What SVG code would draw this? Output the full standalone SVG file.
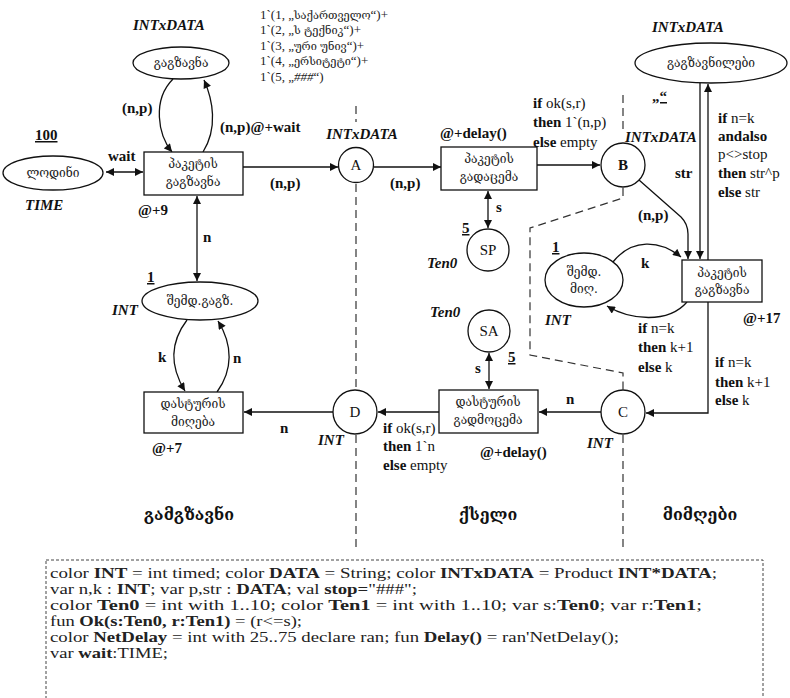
<svg xmlns="http://www.w3.org/2000/svg" width="790" height="698" viewBox="0 0 790 698">
<style>
.ln{stroke:#111;stroke-width:1.3;fill:none}
.nd{fill:#fff;stroke:#111;stroke-width:1.3}
.t{font-family:"Liberation Serif","Times New Roman","DejaVu Serif",serif;font-size:15px;fill:#111}
.b{font-weight:bold}
.bi{font-weight:bold;font-style:italic}
.u{text-decoration:underline}
.g{font-family:"DejaVu Serif","DejaVu Sans",serif;font-size:12px;fill:#222;text-anchor:middle}
.gl{font-family:"DejaVu Serif","DejaVu Sans",serif;font-size:16px;font-weight:bold;fill:#111;text-anchor:middle}
.dash{stroke:#333;stroke-width:1.2;stroke-dasharray:8 5;fill:none}
.code{font-family:"Liberation Serif","Times New Roman","DejaVu Serif",serif;font-size:15px;fill:#222}
.tok{font-family:"Liberation Serif","Times New Roman","DejaVu Serif",serif;font-size:13px;fill:#222}
.k{font-family:"DejaVu Serif","DejaVu Sans",serif;font-size:11px}
</style>
<defs>
<marker id="ah" viewBox="0 0 10 10" refX="10" refY="5" markerWidth="9" markerHeight="8" markerUnits="userSpaceOnUse" orient="auto-start-reverse"><path d="M0,0 L10,5 L0,10 z" fill="#111"/></marker>
</defs>

<g id="partitions">
<path class="dash" d="M356 106 L356 122"/>
<path class="dash" d="M356 184 L356 389"/>
<path class="dash" d="M356 435 L356 548"/>
<path class="dash" d="M623 95 L623 130"/>
<path class="dash" d="M623 188 L623 198 L530 228 L530 355 L623 373 L623 390"/>
<path class="dash" d="M623 435 L623 548"/>
</g>

<g id="connectors">
<path class="ln" d="M106 172 L143 172" marker-start="url(#ah)" marker-end="url(#ah)"/>
<path class="ln" d="M173 79 C152 100,158 135,172 152" marker-end="url(#ah)"/>
<path class="ln" d="M203 152 C218 128,213 100,204 80" marker-end="url(#ah)"/>
<path class="ln" d="M243 167 L338 167" marker-end="url(#ah)"/>
<path class="ln" d="M374 167 L441 167" marker-end="url(#ah)"/>
<path class="ln" d="M537 165 L600 165" marker-end="url(#ah)"/>
<path class="ln" d="M488 191 L488 228" marker-start="url(#ah)" marker-end="url(#ah)"/>
<path class="ln" d="M639 180 L681 217 Q688 224 688 234 L688 259" marker-end="url(#ah)"/>
<path class="ln" d="M708 260 L708 84" marker-end="url(#ah)"/>
<path class="ln" d="M700 83 L700 259" marker-end="url(#ah)"/>
<path class="ln" d="M613 262 C632 238,660 240,681 257" marker-end="url(#ah)"/>
<path class="ln" d="M687 302 C668 324,630 320,607 306" marker-end="url(#ah)"/>
<path class="ln" d="M708 302 L708 413 L646 413" marker-end="url(#ah)"/>
<path class="ln" d="M601 412 L539 412" marker-end="url(#ah)"/>
<path class="ln" d="M489 353 L489 389" marker-start="url(#ah)" marker-end="url(#ah)"/>
<path class="ln" d="M439 412 L378 412" marker-end="url(#ah)"/>
<path class="ln" d="M333 412 L244 412" marker-end="url(#ah)"/>
<path class="ln" d="M197 196 L197 281" marker-start="url(#ah)" marker-end="url(#ah)"/>
<path class="ln" d="M187 320 C168 345,172 370,185 391" marker-end="url(#ah)"/>
<path class="ln" d="M217 392 C233 370,233 345,218 321" marker-end="url(#ah)"/>
</g>

<g id="p_gagzavna">
<ellipse class="nd" cx="181" cy="63" rx="48" ry="16"/>
<text class="g" x="181" y="67">გაგზავნა</text>
<text class="t bi" x="133" y="30">INTxDATA</text>
</g>
<g id="p_lodini">
<ellipse class="nd" cx="53" cy="173" rx="50" ry="17"/>
<text class="g" x="53" y="177">ლოდინი</text>
<text class="t b u" x="35" y="140">100</text>
<text class="t bi" x="25" y="210">TIME</text>
</g>
<g id="t_send">
<rect class="nd" x="144" y="152" width="99" height="43"/>
<text class="g" x="193" y="168">პაკეტის</text>
<text class="g" x="193" y="186">გაგზავნა</text>
<text class="t b" x="138" y="215">@+9</text>
</g>
<g id="p_A">
<circle class="nd" cx="356" cy="165" r="17.5"/>
<text class="t" x="356" y="170" text-anchor="middle">A</text>
<text class="t bi" x="362" y="139" text-anchor="middle">INTxDATA</text>
</g>
<g id="t_transmit">
<rect class="nd" x="441" y="147" width="96" height="43"/>
<text class="g" x="489" y="163">პაკეტის</text>
<text class="g" x="489" y="181">გადაცემა</text>
<text class="t b" x="440" y="138">@+delay()</text>
</g>
<g id="p_SP">
<circle class="nd" cx="488" cy="250" r="21"/>
<text class="t" x="488" y="255" text-anchor="middle">SP</text>
<text class="t b u" x="462" y="233">5</text>
<text class="t bi" x="427" y="268">Ten0</text>
</g>
<g id="p_B">
<circle class="nd" cx="623" cy="165" r="22"/>
<text class="t b" x="623" y="170" text-anchor="middle">B</text>
<text class="t bi" x="625" y="142">INTxDATA</text>
</g>
<g id="p_received">
<ellipse class="nd" cx="711" cy="63" rx="76" ry="20"/>
<text class="g" x="711" y="67">გაგზავნილები</text>
<text class="t bi" x="652" y="32">INTxDATA</text>
<text class="t b u" x="652" y="101">„“</text>
</g>
<g id="t_receive">
<rect class="nd" x="682" y="260" width="80" height="42"/>
<text class="g" x="722" y="277">პაკეტის</text>
<text class="g" x="722" y="294">გაგზავნა</text>
<text class="t b" x="743" y="323">@+17</text>
</g>
<g id="p_nextrec">
<ellipse class="nd" cx="584" cy="280" rx="39" ry="27"/>
<text class="g" x="584" y="276">შემდ.</text>
<text class="g" x="584" y="293">მიღ.</text>
<text class="t b u" x="552" y="252">1</text>
<text class="t bi" x="545" y="325">INT</text>
</g>
<g id="p_C">
<circle class="nd" cx="623" cy="412" r="22"/>
<text class="t" x="623" y="417" text-anchor="middle">C</text>
<text class="t bi" x="587" y="448">INT</text>
</g>
<g id="t_transmitack">
<rect class="nd" x="439" y="390" width="99" height="43"/>
<text class="g" x="488" y="406">დასტურის</text>
<text class="g" x="488" y="424">გადმოცემა</text>
<text class="t b" x="480" y="457">@+delay()</text>
</g>
<g id="p_SA">
<circle class="nd" cx="489" cy="331" r="21"/>
<text class="t" x="489" y="336" text-anchor="middle">SA</text>
<text class="t bi" x="430" y="317">Ten0</text>
<text class="t b u" x="508" y="362">5</text>
</g>
<g id="p_D">
<circle class="nd" cx="355" cy="412" r="22"/>
<text class="t" x="355" y="417" text-anchor="middle">D</text>
<text class="t bi" x="318" y="445">INT</text>
</g>
<g id="t_recack">
<rect class="nd" x="144" y="392" width="99" height="41"/>
<text class="g" x="193" y="408">დასტურის</text>
<text class="g" x="193" y="426">მიღება</text>
<text class="t b" x="152" y="453">@+7</text>
</g>
<g id="p_nextsend">
<ellipse class="nd" cx="200" cy="301" rx="58" ry="19"/>
<text class="g" x="200" y="305">შემდ.გაგზ.</text>
<text class="t b u" x="147" y="282">1</text>
<text class="t bi" x="112" y="315">INT</text>
</g>

<g id="labels">
<text class="t b" x="108" y="161">wait</text>
<text class="t b" x="122" y="113">(n,p)</text>
<text class="t b" x="220" y="132">(n,p)@+wait</text>
<text class="t b" x="270" y="188">(n,p)</text>
<text class="t b" x="390" y="188">(n,p)</text>
<text class="t" x="533" y="108"><tspan class="b">if</tspan> ok(s,r)</text>
<text class="t" x="533" y="127"><tspan class="b">then</tspan> 1`(n,p)</text>
<text class="t" x="533" y="147"><tspan class="b">else</tspan> empty</text>
<text class="t b" x="496" y="212">s</text>
<text class="t b" x="675" y="178">str</text>
<text class="t" x="718" y="123"><tspan class="b">if</tspan> n=k</text>
<text class="t b" x="718" y="141">andalso</text>
<text class="t" x="718" y="159">p&lt;&gt;stop</text>
<text class="t" x="718" y="178"><tspan class="b">then</tspan> str^p</text>
<text class="t" x="718" y="197"><tspan class="b">else</tspan> str</text>
<text class="t b" x="638" y="220">(n,p)</text>
<text class="t b" x="641" y="268">k</text>
<text class="t" x="638" y="333"><tspan class="b">if</tspan> n=k</text>
<text class="t" x="638" y="352"><tspan class="b">then</tspan> k+1</text>
<text class="t" x="638" y="372"><tspan class="b">else</tspan>  k</text>
<text class="t" x="715" y="367"><tspan class="b">if</tspan> n=k</text>
<text class="t" x="715" y="387"><tspan class="b">then</tspan> k+1</text>
<text class="t" x="715" y="405"><tspan class="b">else</tspan>  k</text>
<text class="t b" x="566" y="404">n</text>
<text class="t b" x="475" y="373">s</text>
<text class="t" x="383" y="433"><tspan class="b">if</tspan> ok(s,r)</text>
<text class="t" x="383" y="451"><tspan class="b">then</tspan> 1`n</text>
<text class="t" x="383" y="470"><tspan class="b">else</tspan> empty</text>
<text class="t b" x="280" y="433">n</text>
<text class="t b" x="203" y="242">n</text>
<text class="t b" x="158" y="362">k</text>
<text class="t b" x="233" y="363">n</text>
</g>

<g id="tokens">
<text class="tok" x="260" y="19">1`(1, „<tspan class="k">საქართველო</tspan>“)+</text>
<text class="tok" x="260" y="34">1`(2, „<tspan class="k">ს ტექნიკ</tspan>“)+</text>
<text class="tok" x="260" y="50">1`(3, „<tspan class="k">ური უნივ</tspan>“)+</text>
<text class="tok" x="260" y="65">1`(4, „<tspan class="k">ერსიტეტი</tspan>“)+</text>
<text class="tok" x="260" y="81">1`(5, „<tspan font-style="italic">###</tspan>“)</text>
</g>

<g id="regions">
<text class="gl" x="189" y="520">გამგზავნი</text>
<text class="gl" x="488" y="520">ქსელი</text>
<text class="gl" x="700" y="520">მიმღები</text>
</g>

<g id="declarations">
<rect x="46" y="560" width="717" height="150" fill="none" stroke="#444" stroke-width="1" stroke-dasharray="3 2"/>
<text class="code" x="50" y="578" textLength="667" lengthAdjust="spacingAndGlyphs">color <tspan class="b">INT</tspan> = int timed; color <tspan class="b">DATA</tspan> = String; color <tspan class="b">INTxDATA</tspan> = Product <tspan class="b">INT*DATA</tspan>;</text>
<text class="code" x="50" y="594" textLength="367" lengthAdjust="spacingAndGlyphs">var  n,k : <tspan class="b">INT</tspan>; var p,str : <tspan class="b">DATA</tspan>; val <tspan class="b">stop=</tspan>"###";</text>
<text class="code" x="50" y="610" textLength="652" lengthAdjust="spacingAndGlyphs">color <tspan class="b">Ten0</tspan> = int with 1..10; color <tspan class="b">Ten1</tspan> = int with 1..10; var s:<tspan class="b">Ten0</tspan>; var r:<tspan class="b">Ten1</tspan>;</text>
<text class="code" x="50" y="626" textLength="252" lengthAdjust="spacingAndGlyphs">fun <tspan class="b">Ok(s:Ten0, r:Ten1)</tspan> = (r&lt;=s);</text>
<text class="code" x="50" y="642" textLength="569" lengthAdjust="spacingAndGlyphs">color <tspan class="b">NetDelay</tspan> = int with 25..75 declare ran; fun <tspan class="b">Delay()</tspan> = ran'NetDelay();</text>
<text class="code" x="50" y="658" textLength="118" lengthAdjust="spacingAndGlyphs">var <tspan class="b">wait</tspan>:TIME;</text>
</g>
</svg>
